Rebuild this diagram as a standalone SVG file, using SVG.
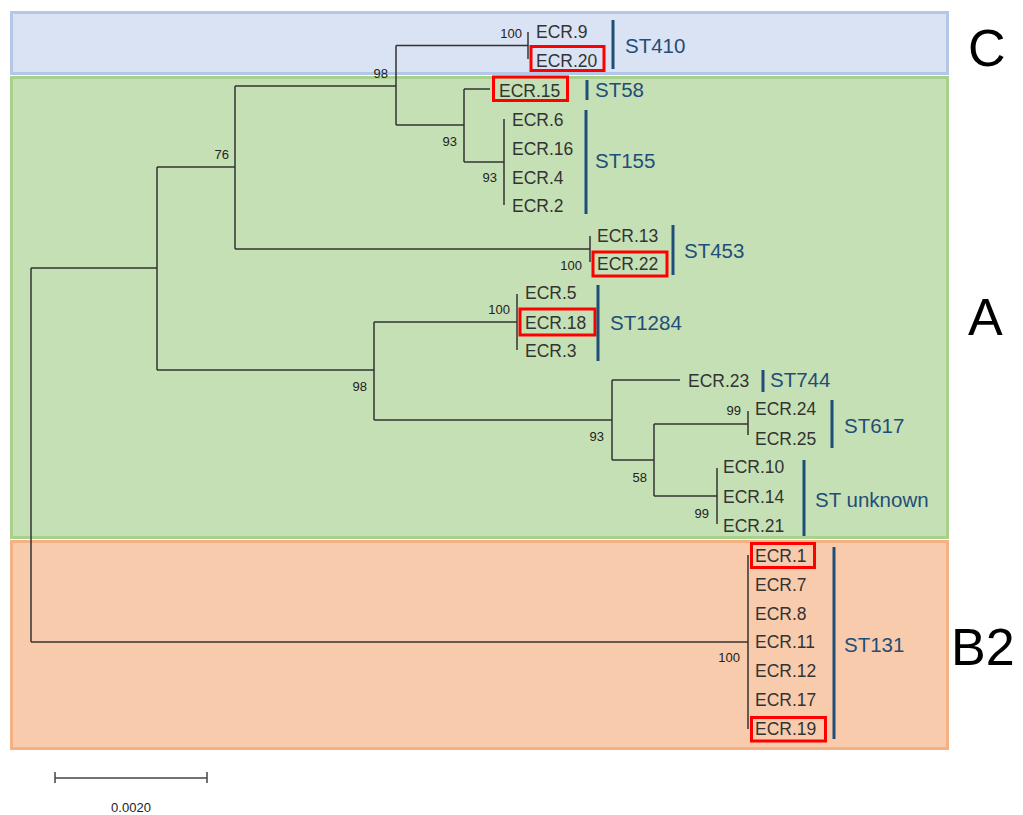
<svg xmlns="http://www.w3.org/2000/svg" width="1023" height="815" viewBox="0 0 1023 815">
<style>
.t{stroke:#333;stroke-width:1.5;fill:none}
.lbl{font-family:"Liberation Sans",Arial,sans-serif;font-size:17.5px;fill:#333}
.bs{font-family:"Liberation Sans",Arial,sans-serif;font-size:13px;fill:#222;text-anchor:end}
.st{font-family:"Liberation Sans",Arial,sans-serif;font-size:20.5px;fill:#1f4e79}
.bar{stroke:#1f4e79;stroke-width:3}
.rb{fill:none;stroke:#ff0000;stroke-width:3}
.big{font-family:"Liberation Sans",Arial,sans-serif;font-size:52px;fill:#000}
</style>
<rect width="1023" height="815" fill="#ffffff"/>
<g id="clades">
<rect id="clade-C" x="11.5" y="12.5" width="936" height="61" fill="#dae3f3" stroke="#b4c7e7" stroke-width="3"/>
<rect id="clade-A" x="11.5" y="77.5" width="936" height="460" fill="#c5e0b4" stroke="#a9d18e" stroke-width="3"/>
<rect id="clade-B2" x="11.5" y="541.5" width="936" height="207" fill="#f8cbad" stroke="#f4b183" stroke-width="3"/>
</g>
<g id="connectors">
<path class="t" d="M31,268V642M31,268H157M31,642H748"/>
<path class="t" d="M157,167V370M157,167H235M157,370H374"/>
<path class="t" d="M235,86V249M235,86H396M235,249H590"/>
<path class="t" d="M396,45.5V125M396,45.5H528M396,125H464"/>
<path class="t" d="M528,32V59"/>
<path class="t" d="M464,89V162M464,89H490M464,162H504"/>
<path class="t" d="M504,119V205"/>
<path class="t" d="M590,236V262"/>
<path class="t" d="M374,322V420M374,322H517M374,420H612"/>
<path class="t" d="M517,294V350"/>
<path class="t" d="M612,380V460M612,380H680M612,460H654"/>
<path class="t" d="M654,424V496M654,424H748M654,496H717"/>
<path class="t" d="M748,411V435"/>
<path class="t" d="M717,468V524"/>
<path class="t" d="M748,555V729"/>
</g>
<g id="bootstrap">
<text class="bs" x="522" y="38">100</text>
<text class="bs" x="388" y="78">98</text>
<text class="bs" x="229" y="159">76</text>
<text class="bs" x="457" y="145.5">93</text>
<text class="bs" x="497" y="181.5">93</text>
<text class="bs" x="582" y="270">100</text>
<text class="bs" x="510" y="314">100</text>
<text class="bs" x="367" y="390.5">98</text>
<text class="bs" x="604" y="441">93</text>
<text class="bs" x="647" y="481.5">58</text>
<text class="bs" x="741" y="415">99</text>
<text class="bs" x="709" y="518">99</text>
<text class="bs" x="740" y="661.5">100</text>
</g>
<g id="st410">
<text class="lbl" x="536" y="38">ECR.9</text>
<text class="lbl" x="536" y="66.5">ECR.20</text>
<rect class="rb" x="531" y="46.5" width="73" height="24"/>
<line class="bar" x1="613" y1="20" x2="613" y2="69"/>
<text class="st" x="625" y="53">ST410</text>
</g>
<g id="st58">
<text class="lbl" x="499" y="96.5">ECR.15</text>
<rect class="rb" x="493.5" y="77" width="74" height="23.5"/>
<line class="bar" x1="587" y1="80" x2="587" y2="100"/>
<text class="st" x="595" y="97">ST58</text>
</g>
<g id="st155">
<text class="lbl" x="512" y="125.5">ECR.6</text>
<text class="lbl" x="512" y="155">ECR.16</text>
<text class="lbl" x="512" y="183.5">ECR.4</text>
<text class="lbl" x="512" y="212">ECR.2</text>
<line class="bar" x1="586" y1="110" x2="586" y2="214"/>
<text class="st" x="595" y="168">ST155</text>
</g>
<g id="st453">
<text class="lbl" x="597" y="241.5">ECR.13</text>
<text class="lbl" x="597" y="270">ECR.22</text>
<rect class="rb" x="593" y="252" width="74" height="24"/>
<line class="bar" x1="673" y1="225" x2="673" y2="275"/>
<text class="st" x="684" y="257.5">ST453</text>
</g>
<g id="st1284">
<text class="lbl" x="525" y="299">ECR.5</text>
<text class="lbl" x="525" y="328.5">ECR.18</text>
<text class="lbl" x="525" y="357">ECR.3</text>
<rect class="rb" x="520" y="309" width="75" height="26"/>
<line class="bar" x1="598" y1="285" x2="598" y2="361"/>
<text class="st" x="610" y="330">ST1284</text>
</g>
<g id="st744">
<text class="lbl" x="688" y="386.5">ECR.23</text>
<line class="bar" x1="763" y1="370" x2="763" y2="392"/>
<text class="st" x="770" y="387">ST744</text>
</g>
<g id="st617">
<text class="lbl" x="755" y="415">ECR.24</text>
<text class="lbl" x="755" y="444.5">ECR.25</text>
<line class="bar" x1="832" y1="400" x2="832" y2="448"/>
<text class="st" x="844" y="433">ST617</text>
</g>
<g id="st-unknown">
<text class="lbl" x="723" y="473">ECR.10</text>
<text class="lbl" x="723" y="502.5">ECR.14</text>
<text class="lbl" x="723" y="531.5">ECR.21</text>
<line class="bar" x1="804" y1="460" x2="804" y2="536"/>
<text class="st" x="815" y="506.5">ST unknown</text>
</g>
<g id="st131">
<text class="lbl" x="755" y="561.5">ECR.1</text>
<text class="lbl" x="755" y="590.5">ECR.7</text>
<text class="lbl" x="755" y="619.5">ECR.8</text>
<text class="lbl" x="755" y="648">ECR.11</text>
<text class="lbl" x="755" y="677">ECR.12</text>
<text class="lbl" x="755" y="706">ECR.17</text>
<text class="lbl" x="755" y="735">ECR.19</text>
<rect class="rb" x="751.5" y="543.5" width="63" height="24"/>
<rect class="rb" x="751.5" y="717.5" width="74" height="23.5"/>
<line class="bar" x1="834" y1="547" x2="834" y2="739"/>
<text class="st" x="844" y="652">ST131</text>
</g>
<g id="clade-labels">
<text class="big" x="968" y="66">C</text>
<text class="big" x="968" y="335">A</text>
<text class="big" x="951" y="665">B2</text>
</g>
<g id="scale">
<path d="M55,778H207M55,772V783M207,772V783" stroke="#444" stroke-width="1.5" fill="none"/>
<text x="131" y="812" font-family="'Liberation Sans',Arial,sans-serif" font-size="13px" fill="#222" text-anchor="middle">0.0020</text>
</g>
</svg>
